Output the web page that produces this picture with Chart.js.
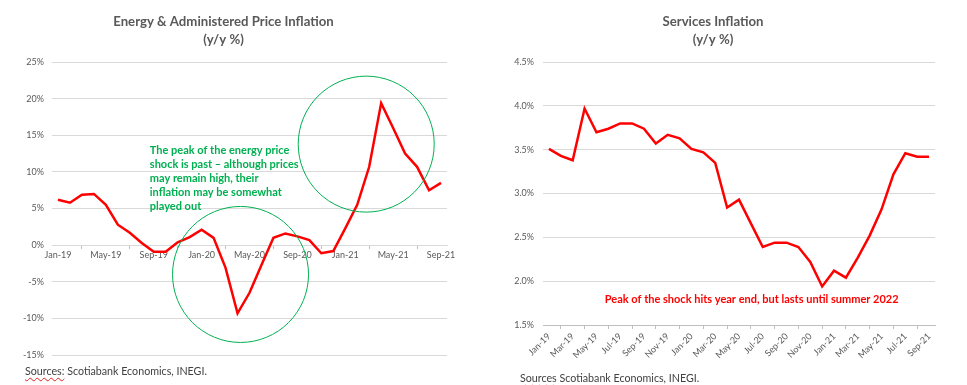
<!DOCTYPE html>
<html>
<head>
<meta charset="utf-8">
<script src="https://cdn.jsdelivr.net/npm/chart.js@4"></script>
<style>
  body { margin: 0; background: #fff; width: 967px; height: 385px; overflow: hidden; position: relative; font-family: Lato, sans-serif; }
  .box { position: absolute; top: 0; height: 385px; }
  .src { position: absolute; font-size: 10.7px; color: #404040; white-space: nowrap; }
  .src u { text-decoration: underline wavy #e02020; text-decoration-thickness: 1px; text-underline-offset: 2px; }
</style>
</head>
<body>
<div class="box" style="left:0;width:466px"><canvas id="energyChart"></canvas></div>
<div class="box" style="left:491px;width:476px"><canvas id="servicesChart"></canvas></div>
<div class="src" style="left:25px;top:364px"><u>Sources:</u> Scotiabank Economics, INEGI.</div>
<div class="src" style="left:520px;top:371px"><u>Sources</u> Scotiabank Economics, INEGI.</div>
<script>
const months = [
  "Jan-19", "Feb-19", "Mar-19", "Apr-19", "May-19", "Jun-19", "Jul-19", "Aug-19", "Sep-19", "Oct-19", "Nov-19", "Dec-19",
  "Jan-20", "Feb-20", "Mar-20", "Apr-20", "May-20", "Jun-20", "Jul-20", "Aug-20", "Sep-20", "Oct-20", "Nov-20", "Dec-20",
  "Jan-21", "Feb-21", "Mar-21", "Apr-21", "May-21", "Jun-21", "Jul-21", "Aug-21", "Sep-21"
];

// Energy & administered prices, y/y %
const energyInflation = [
  6.2, 5.8, 6.9, 7.0, 5.5, 2.8, 1.7, 0.3, -0.9, -0.9, 0.4, 1.1,
  2.1, 1.0, -3.1, -9.3, -6.5, -2.7, 1.0, 1.6, 1.2, 0.7, -1.1, -0.8,
  2.3, 5.5, 10.7, 19.4, 16.0, 12.5, 10.7, 7.5, 8.5
];

// Services, y/y %
const servicesInflation = [
  3.51, 3.43, 3.38, 3.97, 3.70, 3.74, 3.80, 3.80, 3.74, 3.57, 3.67, 3.63,
  3.51, 3.47, 3.35, 2.84, 2.93, 2.66, 2.39, 2.44, 2.44, 2.39, 2.22, 1.94,
  2.12, 2.04, 2.27, 2.52, 2.82, 3.22, 3.46, 3.42, 3.42
];

const energyTicks = [-15, -10, -5, 0, 5, 10, 15, 20, 25];
const servicesTicks = [1.5, 2.0, 2.5, 3.0, 3.5, 4.0, 4.5];

const energyNote = [
  "The peak of the energy price",
  "shock is past \u2013 although prices",
  "may remain high, their",
  "inflation may be somewhat",
  "played out"
];
const servicesNote = ["Peak of the shock hits year end, but lasts until summer 2022"];

const FONT = "Lato, sans-serif";
const GREY = "#595959";
const GRID = "#d9d9d9";
const RED = "#ff0000";

// draws circles and notes, placed in data units through the chart's scales
const notesPlugin = {
  id: "notes",
  afterDatasetsDraw(chart, args, opts) {
    const { ctx, scales } = chart;
    ctx.save();
    (opts.circles || []).forEach((c) => {
      ctx.beginPath();
      ctx.arc(scales.x.getPixelForValue(c.x), scales.y.getPixelForValue(c.y), c.r, 0, Math.PI * 2);
      ctx.strokeStyle = opts.circleColor;
      ctx.lineWidth = 1;
      ctx.stroke();
    });
    if (opts.text) {
      ctx.font = "bold " + opts.fontSize + "px " + FONT;
      ctx.fillStyle = opts.textColor;
      ctx.textAlign = "left";
      ctx.textBaseline = "middle";
      const x0 = scales.x.getPixelForValue(opts.textAt.x);
      const y0 = scales.y.getPixelForValue(opts.textAt.y);
      opts.text.forEach((line, i) => ctx.fillText(line, x0, y0 + i * opts.lineGap));
    }
    ctx.restore();
  },
};

function baseTitle(text) {
  return {
    display: true,
    text: [text, "(y/y %)"],
    color: GREY,
    font: { family: FONT, size: 13.2, weight: "bold", lineHeight: 1.33 },
    padding: { top: 13, bottom: 14 },
  };
}

new Chart(document.getElementById("energyChart"), {
  type: "line",
  data: {
    labels: months,
    datasets: [{
      data: energyInflation,
      borderColor: RED,
      borderWidth: 2.5,
      pointRadius: 0,
      tension: 0,
      fill: false,
    }],
  },
  options: {
    responsive: true,
    maintainAspectRatio: false,
    animation: false,
    layout: { padding: { left: 0, right: 19, top: 0, bottom: 30 } },
    plugins: {
      legend: { display: false },
      tooltip: { enabled: false },
      title: baseTitle("Energy & Administered Price Inflation"),
      notes: {
        circles: [
          { x: 15.25, y: -4.0, r: 68 },
          { x: 25.75, y: 13.8, r: 68 },
        ],
        circleColor: "#00b050",
        text: energyNote,
        textAt: { x: 7.67, y: 12.9 },
        textColor: "#00b050",
        fontSize: 11,
        lineGap: 14,
      },
    },
    scales: {
      x: {
        position: { y: 0 },
        offset: true,
        grid: { offset: true, drawOnChartArea: false, drawTicks: true, tickLength: 3, color: "#bfbfbf" },
        border: { display: true, color: GRID },
        ticks: {
          autoSkip: false,
          maxRotation: 0,
          minRotation: 0,
          padding: 2,
          color: GREY,
          font: { family: FONT, size: 9 },
          callback: function (value, index) {
            return index % 4 === 0 ? this.getLabelForValue(value) : null;
          },
        },
      },
      y: {
        min: -15,
        max: 25,
        afterFit: (s) => { s.width = 52; },
        afterBuildTicks: (s) => { s.ticks = energyTicks.map((v) => ({ value: v })); },
        grid: { color: GRID, drawTicks: false },
        border: { display: false },
        ticks: {
          padding: 8,
          color: GREY,
          font: { family: FONT, size: 9 },
          callback: (v) => v + "%",
        },
      },
    },
  },
  plugins: [notesPlugin],
});

new Chart(document.getElementById("servicesChart"), {
  type: "line",
  data: {
    labels: months,
    datasets: [{
      data: servicesInflation,
      borderColor: RED,
      borderWidth: 2.5,
      pointRadius: 0,
      tension: 0,
      fill: false,
    }],
  },
  options: {
    responsive: true,
    maintainAspectRatio: false,
    animation: false,
    layout: { padding: { left: 0, right: 32, top: 0, bottom: 0 } },
    plugins: {
      legend: { display: false },
      tooltip: { enabled: false },
      title: baseTitle("Services Inflation"),
      notes: {
        text: servicesNote,
        textAt: { x: 4.7, y: 1.79 },
        textColor: RED,
        fontSize: 11,
        lineGap: 14,
      },
    },
    scales: {
      x: {
        offset: true,
        afterFit: (s) => { s.height = 60; },
        grid: { offset: true, drawOnChartArea: false, drawTicks: true, tickLength: 4, color: "#bfbfbf" },
        border: { display: true, color: "#bfbfbf" },
        ticks: {
          autoSkip: false,
          maxRotation: 45,
          minRotation: 45,
          padding: 2,
          color: GREY,
          font: { family: FONT, size: 9 },
          callback: function (value, index) {
            return index % 2 === 0 ? this.getLabelForValue(value) : null;
          },
        },
      },
      y: {
        min: 1.5,
        max: 4.5,
        afterFit: (s) => { s.width = 52; },
        afterBuildTicks: (s) => { s.ticks = servicesTicks.map((v) => ({ value: v })); },
        grid: { color: GRID, drawTicks: false },
        border: { display: false },
        ticks: {
          padding: 9,
          color: GREY,
          font: { family: FONT, size: 9 },
          callback: (v) => v.toFixed(1) + "%",
        },
      },
    },
  },
  plugins: [notesPlugin],
});
</script>
</body>
</html>
